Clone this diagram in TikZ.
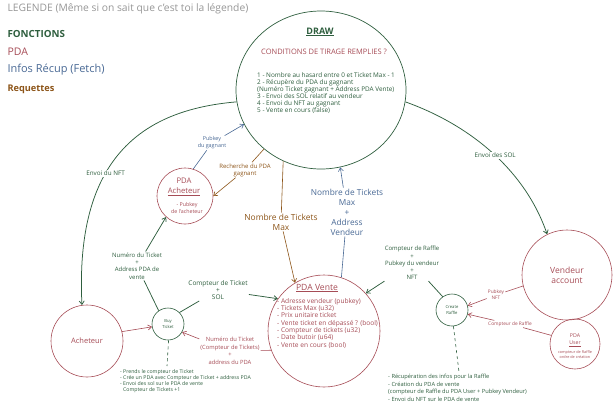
\documentclass[tikz,border=0pt]{standalone}
\usepackage{fontspec}
\setmainfont{Open Sans}
\usepackage{xcolor}
\usepackage{tikz}
\usetikzlibrary{arrows.meta,calc,positioning,shapes.geometric}
\definecolor{fncol}{RGB}{46,94,62}
\definecolor{pdacol}{RGB}{166,76,86}
\definecolor{fetchcol}{RGB}{72,104,148}
\definecolor{reqcol}{RGB}{140,84,24}
\definecolor{legendcol}{RGB}{150,150,150}
\newcommand{\skfont}[2]{\fontsize{#1}{#2}\selectfont}

\begin{document}
\begin{tikzpicture}[x=1pt,y=-1pt,
  bubble/.style={circle,draw=#1,line width=0.6pt,inner sep=0pt},
  lbl/.style={align=center,inner sep=1pt,font=\skfont{6.3}{7.3}},
  fnarrow/.style={draw=fncol,line width=0.75pt,-{Straight Barb[length=3.5pt,width=5pt]}},
  pdaarrow/.style={draw=pdacol,line width=0.6pt,-{Straight Barb[length=3.5pt,width=5pt]}},
  fetcharrow/.style={draw=fetchcol,line width=0.6pt,-{Straight Barb[length=3.5pt,width=5pt]}},
  reqarrow/.style={draw=reqcol,line width=0.6pt,-{Straight Barb[length=3.5pt,width=5pt]}}]
  \useasboundingbox (0,0) rectangle (616,405);
  % legende
  \node[anchor=west,text=legendcol,font=\skfont{10.3}{11}] (legTitle) at (4,9) {LEGENDE (Même si on sait que c'est toi la légende)};
  \node[anchor=west,text=fncol,font=\skfont{9.8}{11}\bfseries] (legFn) at (4,34) {FONCTIONS};
  \node[anchor=west,text=pdacol,font=\skfont{10.5}{11}] (legPda) at (4,52) {PDA};
  \node[anchor=west,text=fetchcol,font=\skfont{11}{12}] (legFetch) at (4,70) {Infos Récup (Fetch)};
  \node[anchor=west,text=reqcol,font=\skfont{9.2}{11}\bfseries] (legReq) at (4,89) {Requettes};
  % draw
  \node[ellipse,draw=fncol,line width=0.7pt,inner sep=0pt,minimum width=170pt,minimum height=158pt] (drawFn) at (321,90) {};
  \node[text=fncol,font=\skfont{9}{10}\bfseries] (drawTitle) at (320,32) {\underline{DRAW}};
  \node[text=pdacol,font=\skfont{7.5}{8}] (drawCond) at (324,52) {CONDITIONS DE TIRAGE REMPLIES ?};
  \node[anchor=north west,align=left,inner sep=0pt,text=fncol,font=\skfont{6.4}{7}] (drawSteps) at (257,72) {1 - Nombre au hasard entre 0 et Ticket Max - 1\\2 - Récupère du PDA du gagnant\\(Numéro Ticket gagnant + Address PDA Vente)\\3 - Envoi des SOL relatif au vendeur\\4 - Envoi du NFT au gagnant\\5 - Vente en cours (false)};
  % pda
  \node[bubble=pdacol,minimum size=56pt] (pdaAch) at (185,196) {};
  \node[align=center,text=pdacol,font=\skfont{7.7}{10}] (pdaAchTitle) at (184,187) {PDA\\\underline{Acheteur}};
  \node[align=center,text=pdacol,font=\skfont{5.3}{7.5}] (pdaAchKey) at (187,208) {- Pubkey\\de l'acheteur};
  \node[bubble=pdacol,minimum size=72pt,text=pdacol,font=\skfont{7.5}{9}] (ach) at (87,341) {Acheteur};
  \node[bubble=fncol,minimum size=32pt,align=center,text=fncol,font=\skfont{4.2}{5.2}] (buy) at (168,324) {Buy\\Ticket};
  \node[bubble=pdacol,minimum size=112pt] (vente) at (324,331) {};
  \node[text=pdacol,font=\skfont{8.6}{9}] (venteTitle) at (317,288) {\underline{PDA Vente}};
  \node[anchor=north west,align=left,inner sep=0pt,text=pdacol,font=\skfont{6.6}{7.3}] (venteList) at (277,298) {- Adresse vendeur (pubkey)\\- Tickets Max (u32)\\- Prix unitaire ticket\\- Vente ticket en dépassé ? (bool)\\- Compteur de tickets (u32)\\- Date butoir (u64)\\- Vente en cours (bool)};
  \node[bubble=fncol,minimum size=32pt,align=center,text=fncol,font=\skfont{4.2}{5.2}] (create) at (452,310) {Create\\Raffle};
  \node[bubble=pdacol,minimum size=90pt,align=center,text=pdacol,font=\skfont{8.5}{10}] (vendeur) at (567,275) {Vendeur\\account};
  \node[bubble=pdacol,minimum size=50pt] (user) at (575,344) {};
  \node[align=center,text=pdacol,font=\skfont{5.2}{7}] (userTitle) at (575,340) {PDA\\\underline{User}};
  \node[align=center,text=pdacol,font=\skfont{3.8}{5}] (userInfo) at (575,355) {compteur de Raffle\\ordre de création};
  % labels
  \node[lbl,text=fncol,font=\skfont{6}{7.3}] (lblBuyPda) at (137,266) {Numéro du Ticket\\+\\Address PDA de\\vente};
  \node[lbl,text=fncol,font=\skfont{6.5}{7.3}] (lblBuyVente) at (218,290) {Compteur de Ticket\\+\\SOL};
  \node[lbl,text=pdacol,font=\skfont{5.8}{7.6}] (lblNumTicket) at (230,351) {Numéro du Ticket\\(Compteur de Tickets)\\+\\address du PDA};
  \node[lbl,text=fetchcol,font=\skfont{5.4}{7}] (lblPubkey) at (212,143) {Pubkey\\du gagnant};
  \node[lbl,text=reqcol,font=\skfont{6}{7}] (lblRecherche) at (245,170) {Recherche du PDA\\gagnant};
  \node[lbl,text=reqcol,font=\skfont{8.4}{10}] (lblNbMax) at (281,222) {Nombre de Tickets\\Max};
  \node[lbl,text=fetchcol,font=\skfont{8.3}{10}] (lblNbAddr) at (347,212) {Nombre de Tickets\\Max\\+\\Address\\Vendeur};
  \node[lbl,text=fncol,font=\skfont{6}{7.3}] (lblRaffle) at (412,263) {Compteur de Raffle\\+\\Pubkey du vendeur\\+\\NFT};
  \node[lbl,text=pdacol,font=\skfont{4.8}{6}] (lblPubNft) at (496,295) {Pubkey\\NFT};
  \node[lbl,text=pdacol,font=\skfont{4.8}{6}] (lblCptRaffle) at (510,324) {Compteur de Raffle};
  % notes
  \node[anchor=north west,align=left,inner sep=0pt,text=fncol,font=\skfont{5.2}{6.1}] (noteBuy) at (120,369) {- Prends le compteur de Ticket\\- Crée un PDA avec Compteur de Ticket + address PDA\\- Envoi des sol sur le PDA de vente\\\hspace*{3pt}Compteur de Tickets +1};
  \node[anchor=north west,align=left,inner sep=0pt,text=fncol,font=\skfont{5.7}{7.7}] (noteRaffle) at (388,374) {- Récupération des infos pour la Raffle\\- Création du PDA de vente\\(compteur de Raffle du PDA User + Pubkey Vendeur)\\- Envoi du NFT sur le PDA de vente};
  \coordinate (buyEnd) at (167,366);
  \coordinate (raffleEnd) at (459,372);
  % connecteurs
  \draw[fnarrow] (drawFn.188) .. controls (140,110) and (75,160) .. (ach.98) node[lbl,pos=0.6,fill=white,text=fncol] (lblNft) {Envoi du NFT};
  \draw[fnarrow] (drawFn.-8) .. controls (470,125) and (525,170) .. (vendeur.116) node[lbl,pos=0.52,fill=white,text=fncol] (lblSol) {Envoi des SOL};
  \draw[fnarrow] (buy.125) -- (lblBuyPda) -- (pdaAch.228);
  \draw[fnarrow] (buy.45) -- (lblBuyVente) -- (vente.145);
  \draw[pdaarrow] (vente.200) -- (lblNumTicket) -- (buy.-30);
  \draw[pdaarrow] (ach.15) -- (buy.190);
  \draw[fetcharrow] (pdaAch.73) -- (lblPubkey) -- (drawFn.204);
  \draw[reqarrow] (drawFn.226) -- (lblRecherche) -- (pdaAch.0);
  \draw[reqarrow] (drawFn.242) -- (lblNbMax) -- (vente.121);
  \draw[fetcharrow] (vente.72) -- (lblNbAddr) -- (drawFn.284);
  \draw[fnarrow] (create.125) -- (lblRaffle) -- (vente.42);
  \draw[pdaarrow] (vendeur.194) -- (lblPubNft) -- (create.15);
  \draw[pdaarrow] (user.160) -- (lblCptRaffle) -- (create.-15);
  \draw[draw=fncol,line width=0.6pt,dashed] (buy.-88) -- (buyEnd);
  \draw[draw=fncol,line width=0.6pt,dashed] (create.-85) -- (raffleEnd);
\end{tikzpicture}
\end{document}
